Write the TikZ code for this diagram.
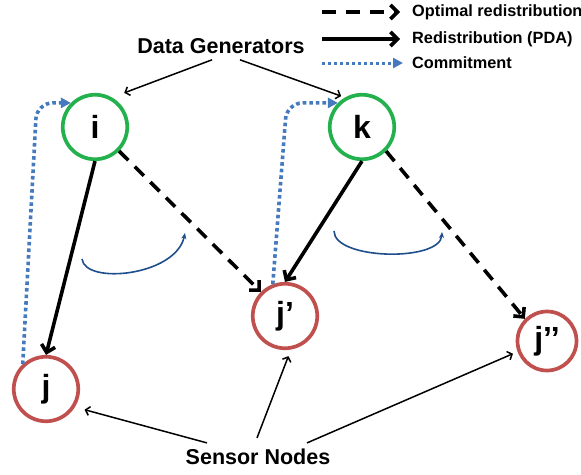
\documentclass[tikz,border=0pt]{standalone}
\usepackage{fontspec}
\setmainfont{Liberation Sans}
\usetikzlibrary{arrows.meta, positioning, calc}
\definecolor{GenGreen}{RGB}{34, 177, 76}
\definecolor{SensorRed}{RGB}{192, 80, 77}
\definecolor{CommitBlue}{RGB}{70, 122, 190}
\definecolor{AngleBlue}{RGB}{31, 78, 140}

\begin{document}
\begin{tikzpicture}[
            x=1pt, y=-1pt,
            gen/.style={circle, draw=GenGreen, line width=3.7pt, minimum size=64.5pt, inner sep=0pt, font=\fontsize{32}{32}\selectfont\bfseries},
            sensor/.style={gen, draw=SensorRed},
            groupname/.style={font=\fontsize{21.5}{24}\selectfont\bfseries, inner sep=2pt},
            legtext/.style={font=\fontsize{16.3}{19}\selectfont\bfseries, anchor=west, inner sep=0pt},
            pda/.style={-{Straight Barb[length=7pt, width=14pt]}, line width=3.6pt},
            optimal/.style={pda, dash pattern=on 13pt off 9pt},
            commit/.style={-{Triangle[length=10pt, width=10pt]}, CommitBlue, line width=3.6pt, dash pattern=on 3.6pt off 3pt},
            pointer/.style={-{Straight Barb[length=4pt, width=9pt]}, line width=1.5pt},
            anglemark/.style={-{Stealth[length=6pt, width=5pt]}, AngleBlue, line width=1.6pt}
        ]
            \useasboundingbox (0,0) rectangle (581,474);

            \node[gen] (i) at (95,127) {i};
            \node[gen] (k) at (362,127) {k};
            \node[sensor] (j) at (46,389) {j};
            \node[sensor] (j1) at (285,316) {j’};
            \node[sensor, minimum size=59pt] (j2) at (547,341) {j’’};

            \node[groupname] (gens) at (221,46) {Data Generators};
            \node[groupname] (sensors) at (258,457) {Sensor Nodes};

            \draw[pointer, shorten >=13pt] ([xshift=-9pt, yshift=-4pt]gens.south) -- (i.60);
            \draw[pointer, shorten >=4pt] ([xshift=19pt, yshift=-4pt]gens.south) -- (k.120);
            \draw[pointer, shorten >=10pt] ([xshift=-51pt, yshift=4pt]sensors.north) -- (j.-32);
            \draw[pointer, shorten >=7pt] ([xshift=-1pt, yshift=9pt]sensors.north) -- (j1.-80);
            \draw[pointer, shorten >=5pt] ([xshift=49pt, yshift=4pt]sensors.north) -- (j2.200);

            \draw[pda] (i.south) -- (j.north);
            \draw[pda] (k.south) -- (j1.north);
            \draw[optimal] (i.south east) -- (j1.north west);
            \draw[optimal] (k.south east) -- (j2.north west);

            \draw[commit, rounded corners=16pt] (j.133) -- ($(j.133 |- i.north west)+(14,0)$) -- (i.north west);
            \draw[commit, rounded corners=16pt] (j1.111) -- ($(j1.111 |- k.north west)+(14,0)$) -- (k.north west);

            \draw[anglemark] (82,259) .. controls (85,285) and (176,276) .. (185,233);
            \draw[anglemark] (334,231) .. controls (334,260) and (440,262) .. (442,232);

            \node[legtext] (lopt) at (412,12) {Optimal redistribution};
            \node[legtext] (lpda) at (412,39) {Redistribution (PDA)};
            \node[legtext] (lcom) at (412,63) {Commitment};
            \draw[optimal, dash pattern=on 14pt off 10pt] ([xshift=-90pt]lopt.west) -- ([xshift=-12pt]lopt.west);
            \draw[pda] ([xshift=-90pt]lpda.west) -- ([xshift=-12pt]lpda.west);
            \draw[commit, line width=3pt, dash pattern=on 3pt off 3pt] ([xshift=-90pt]lcom.west) -- ([xshift=-9pt]lcom.west);
        \end{tikzpicture}
\end{document}
